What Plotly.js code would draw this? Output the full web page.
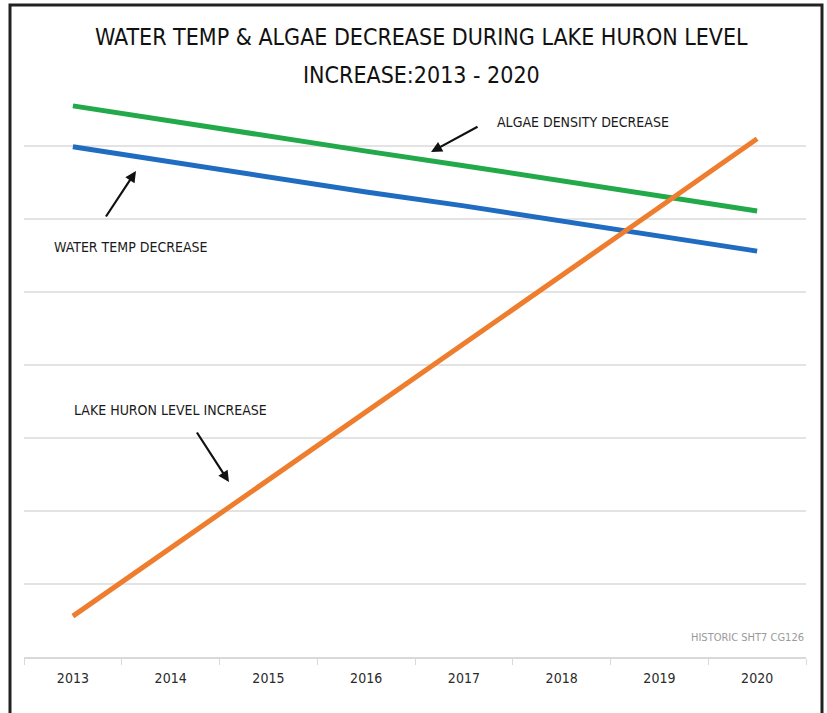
<!DOCTYPE html>
<html>
<head>
<meta charset="utf-8">
<script src="https://cdn.plot.ly/plotly-3.0.1.min.js"></script>
<style>
  html, body { margin: 0; padding: 0; background: #ffffff; }
  #chart { width: 827px; height: 713px; }
</style>
</head>
<body>
<div id="chart"></div>
<script>
// ---- Data (relative units) ----
const years = ["2013", "2014", "2015", "2016", "2017", "2018", "2019", "2020"];
const algaeDensity = [7.55, 7.34, 7.14, 6.93, 6.73, 6.52, 6.32, 6.11];
const waterTemp = [6.99, 6.78, 6.58, 6.37, 6.18, 5.97, 5.77, 5.56];
const lakeHuronLevel = [0.56, 1.49, 2.42, 3.36, 4.29, 5.22, 6.16, 7.10];

const titleLine1 = "WATER TEMP & ALGAE DECREASE DURING LAKE HURON LEVEL";
const titleLine2 = "INCREASE:2013 - 2020";
const labelAlgae = "ALGAE DENSITY DECREASE";
const labelWater = "WATER TEMP DECREASE";
const labelLake = "LAKE HURON LEVEL INCREASE";
const sourceNote = "HISTORIC SHT7 CG126";

const FONT = '"Liberation Sans Narrow", "DejaVu Sans Condensed", "Roboto Condensed", "Open Sans", sans-serif';

const traces = [
  { x: years, y: algaeDensity, type: "scatter", mode: "lines", name: "Algae density",
    line: { color: "#22a94a", width: 5 } },
  { x: years, y: waterTemp, type: "scatter", mode: "lines", name: "Water temp",
    line: { color: "#1f6cc0", width: 5 } },
  { x: years, y: lakeHuronLevel, type: "scatter", mode: "lines", name: "Lake Huron level",
    line: { color: "#ee7d2e", width: 5 } }
];

function arrow(x, y, ax, ay) {
  return { xref: "paper", yref: "paper", x: x, y: y, ax: ax, ay: ay, text: "",
    showarrow: true, arrowhead: 2, arrowsize: 1, arrowwidth: 2.2, arrowcolor: "#111" };
}
function label(text, x, y, anchor, size, color) {
  return { xref: "paper", yref: "paper", x: x, y: y, text: text, showarrow: false,
    xanchor: anchor, yanchor: "middle", font: { family: FONT, size: size, color: color } };
}

const layout = {
  width: 827, height: 713,
  margin: { l: 24, r: 21, t: 73, b: 56 },
  paper_bgcolor: "#ffffff", plot_bgcolor: "#ffffff",
  showlegend: false,
  title: {
    text: titleLine1,
    font: { family: FONT, size: 23, color: "#111" },
    x: 0.508, xanchor: "center", xref: "paper",
    y: 1 - 37 / 713, yanchor: "middle", yref: "container"
  },
  xaxis: {
    type: "category",
    range: [-0.5, 7.5],
    showgrid: false,
    showline: true, linecolor: "#d9d9d9", linewidth: 1.5,
    ticks: "outside", tickson: "boundaries", ticklen: 6, tickcolor: "#d9d9d9",
    ticklabelstandoff: 8,
    tickfont: { family: FONT, size: 14, color: "#2a2a2a" },
    fixedrange: true
  },
  yaxis: {
    range: [0, 8], dtick: 1,
    showgrid: true, gridcolor: "#e3e3e3", gridwidth: 1.5,
    zeroline: false, showline: false, showticklabels: false, ticks: "",
    fixedrange: true
  },
  annotations: [
    label(titleLine2, 0.508, (657 - 75) / 584, "center", 23, "#111"),
    label(labelAlgae, 0.6023, 0.9161, "left", 14, "#1a1a1a"),
    label(labelWater, 0.0358, 0.7021, "left", 14, "#1a1a1a"),
    label(labelLake, 0.0614, 0.4229, "left", 14, "#1a1a1a"),
    label(sourceNote, 1.0, 0.0342, "right", 11, "#9a9a9a"),
    arrow(0.5205, 0.8647, 48, -26),
    arrow(0.1432, 0.8322, -31, 47),
    arrow(0.2621, 0.2997, -33, -51)
  ],
  shapes: [
    { type: "rect", xref: "paper", yref: "paper",
      x0: (10 - 24) / 782, x1: (822 - 24) / 782,
      y0: (657 - 730) / 584, y1: (657 - 5) / 584,
      line: { color: "#222", width: 3 }, fillcolor: "rgba(0,0,0,0)", layer: "above" }
  ]
};

Plotly.newPlot("chart", traces, layout, { displayModeBar: false, staticPlot: true });
</script>
</body>
</html>
